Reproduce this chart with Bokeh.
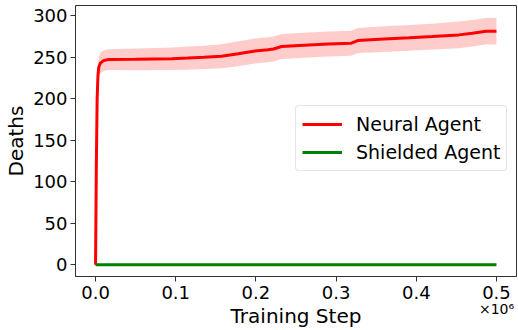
from bokeh.plotting import figure
from bokeh.models import Range1d, FixedTicker, Legend, LegendItem, Label, ColumnDataSource
from bokeh.embed import file_html
from bokeh.resources import INLINE

steps = [0, 1000, 2000, 3000, 4000, 6000, 10000, 16000, 50000, 95000, 115000, 135000,
         157000, 178000, 199000, 215000, 222000, 232000, 260000, 290000, 319000, 327000,
         360000, 391000, 420000, 453000, 470000, 487000, 500000]
neural_mean = [0, 120, 200, 228, 238, 243, 246, 247.3, 247.5, 248.2, 249, 250, 251.3, 254.2,
               257.5, 259, 260, 263, 264.5, 266, 267, 270.2, 272, 273.5, 275, 277, 279,
               281.4, 281.5]
neural_std = [0, 6, 10, 11, 12, 12.5, 12.5, 12.5, 13, 13.5, 14, 14, 14.5, 15, 15, 15, 15, 15,
              15, 15, 15, 15, 15.5, 15.5, 15.5, 16, 16, 16, 16]
shield_mean = [0] * len(steps)
shield_std = [0.8] * len(steps)

x_ticks = [0, 100000, 200000, 300000, 400000, 500000]
x_tick_labels = ["0.0", "0.1", "0.2", "0.3", "0.4", "0.5"]
y_ticks = [0, 50, 100, 150, 200, 250, 300]

FONT = "DejaVu Sans"

src = ColumnDataSource(dict(
    x=steps,
    nm=neural_mean,
    nlo=[m - s for m, s in zip(neural_mean, neural_std)],
    nhi=[m + s for m, s in zip(neural_mean, neural_std)],
    sm=shield_mean,
    slo=[m - s for m, s in zip(shield_mean, shield_std)],
    shi=[m + s for m, s in zip(shield_mean, shield_std)],
))

p = figure(width=518, height=330, output_backend="svg", toolbar_location=None,
           x_range=Range1d(-25000, 525000), y_range=Range1d(-14.1, 312.4),
           frame_width=441, frame_height=271,
           min_border_left=75, min_border_right=2, min_border_top=5, min_border_bottom=54)

p.background_fill_color = "white"
p.border_fill_color = "white"
p.outline_line_color = "#333333"
p.outline_line_width = 1
p.grid.visible = False

p.varea(x="x", y1="nlo", y2="nhi", source=src, fill_color="red", fill_alpha=0.2)
p.varea(x="x", y1="slo", y2="shi", source=src, fill_color="green", fill_alpha=0.2)
r1 = p.line(x="x", y="nm", source=src, line_color="red", line_width=3)
r2 = p.line(x="x", y="sm", source=src, line_color="green", line_width=3)

for ax in (p.xaxis[0], p.yaxis[0]):
    ax.axis_line_color = "#333333"
    ax.major_tick_line_color = "#333333"
    ax.major_tick_out = 5
    ax.major_tick_in = 0
    ax.minor_tick_out = 0
    ax.minor_tick_in = 0
    ax.major_label_text_font = FONT
    ax.major_label_text_font_size = "18px"
    ax.major_label_text_color = "black"
    ax.axis_label_text_font = FONT
    ax.axis_label_text_font_size = "20px"
    ax.axis_label_text_font_style = "normal"
    ax.axis_label_text_color = "black"

p.xaxis.ticker = FixedTicker(ticks=x_ticks)
p.xaxis.major_label_overrides = {t: l for t, l in zip(x_ticks, x_tick_labels)}
p.yaxis.ticker = FixedTicker(ticks=y_ticks)
p.xaxis.axis_label = "Training Step"
p.yaxis.axis_label = "Deaths"
p.xaxis.major_label_standoff = 4
p.xaxis.axis_label_standoff = 2
p.yaxis.major_label_standoff = 3
p.yaxis.axis_label_standoff = 2

legend = Legend(items=[LegendItem(label="Neural Agent", renderers=[r1]),
                       LegendItem(label="Shielded Agent", renderers=[r2])],
                location=(220, 105))
legend.label_text_font = FONT
legend.label_text_font_size = "19px"
legend.label_text_color = "black"
legend.glyph_width = 40
legend.glyph_height = 24
legend.label_height = 24
legend.label_standoff = 14
legend.spacing = 4
legend.padding = 6
legend.margin = 0
legend.border_line_color = "#cccccc"
legend.border_line_width = 1
legend.border_radius = 4
legend.background_fill_alpha = 0.8
p.add_layout(legend, "center")

offset = Label(x=421, y=30, x_units="screen", y_units="screen", text="×10⁶",
               text_font=FONT, text_font_size="14px",
               text_align="center", text_baseline="bottom", text_color="black")
p.add_layout(offset, "below")

open("out.html", "w").write(file_html(p, INLINE))
